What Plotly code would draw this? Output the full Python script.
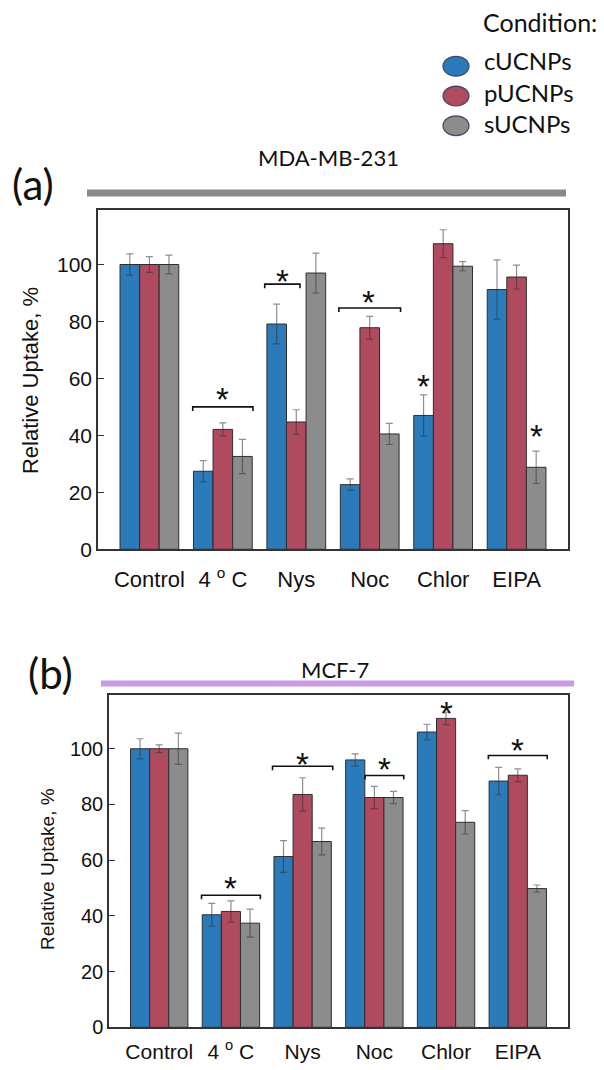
import plotly.graph_objects as go

W, H = 604, 1070

categories = ["Control", "4 <sup>o</sup> C", "Nys", "Noc", "Chlor", "EIPA"]
series_names = ["cUCNPs", "pUCNPs", "sUCNPs"]
colors = ["#2b7bba", "#b04a5f", "#8c8c8c"]

# Panel (a) MDA-MB-231
a_c = [100, 27.4, 79.1, 22.7, 47.0, 91.2]
a_c_err = [3.7, 3.7, 7.0, 2.0, 7.2, 10.4]
a_p = [100, 42.1, 44.7, 77.8, 107.3, 95.6]
a_p_err = [2.8, 2.3, 4.3, 4.0, 4.9, 4.2]
a_s = [100, 32.6, 97.0, 40.5, 99.4, 28.8]
a_s_err = [3.3, 6.0, 7.0, 3.7, 1.6, 5.7]

# Panel (b) MCF-7
b_c = [100, 40.4, 61.3, 96.0, 106.0, 88.4]
b_c_err = [3.6, 4.1, 5.7, 2.2, 2.8, 4.9]
b_p = [100, 41.6, 83.6, 82.5, 110.9, 90.5]
b_p_err = [1.4, 3.8, 6.0, 4.0, 2.2, 2.3]
b_s = [100, 37.4, 66.7, 82.5, 73.6, 49.8]
b_s_err = [5.6, 5.0, 4.8, 2.2, 4.2, 1.3]

# significance brackets: (category index, start offset, end offset, y)
a_brackets = [(1, -0.41, 0.41, 50.0), (2, -0.43, 0.05, 93.1), (3, -0.42, 0.42, 84.7)]
b_brackets = [(1, -0.41, 0.41, 47.4), (2, -0.42, 0.42, 93.7), (3, -0.13, 0.41, 90.4), (5, -0.41, 0.41, 97.6)]
# stars: (category index, offset, y)
a_stars = [(1, 0.0, 55.5), (2, -0.19, 96.8), (3, -0.01, 89.4), (4, -0.267, 59.9), (5, 0.267, 42.5)]
b_stars = [(1, 0.0, 52.6), (2, 0.0, 97.3), (3, 0.14, 95.3), (4, 0.0, 115.4), (5, 0.0, 102.3)]

xidx = list(range(len(categories)))

fig = go.Figure()

panels = [
    ("x", "y", [(a_c, a_c_err), (a_p, a_p_err), (a_s, a_s_err)], a_brackets, a_stars),
    ("x2", "y2", [(b_c, b_c_err), (b_p, b_p_err), (b_s, b_s_err)], b_brackets, b_stars),
]

for xa, ya, data, brackets, stars in panels:
    for (vals, errs), name, col in zip(data, series_names, colors):
        fig.add_trace(go.Bar(
            x=xidx, y=vals, name=name, xaxis=xa, yaxis=ya,
            marker=dict(color=col, line=dict(color="#2e2e2e", width=1)),
            error_y=dict(type="data", array=errs, visible=True,
                         color="rgba(50,50,50,0.55)", thickness=1.2, width=3.5),
            showlegend=False,
        ))
    for ci, o0, o1, yv in brackets:
        fig.add_trace(go.Scatter(
            x=[ci + o0, ci + o0, ci + o1, ci + o1],
            y=[yv - 1.4, yv, yv, yv - 1.4],
            mode="lines", line=dict(color="#111111", width=1.6),
            xaxis=xa, yaxis=ya, showlegend=False, hoverinfo="skip",
        ))
    for ci, off, yv in stars:
        fig.add_annotation(x=ci + off, y=yv, xref=xa, yref=ya, text="*",
                           showarrow=False, yshift=-8,
                           font=dict(family="Liberation Sans", size=33, color="#111111"))

axis_common_y = dict(range=[0, 119.2], tickvals=[0, 20, 40, 60, 80, 100],
                     ticks="inside", ticklen=6, tickcolor="#333333",
                     showline=True, mirror=True, linecolor="#333333", linewidth=1.5,
                     showgrid=False, zeroline=False)
axis_common_x = dict(range=[-0.7, 5.7], tickvals=xidx, ticktext=categories,
                     ticks="", showline=True, mirror=True, linecolor="#333333",
                     linewidth=1.5, showgrid=False, zeroline=False)

def px(v):
    return v / W

def py(v):
    return 1 - v / H

fig.update_layout(
    width=W, height=H, margin=dict(l=0, r=0, t=0, b=0),
    paper_bgcolor="white", plot_bgcolor="white",
    barmode="group", bargap=0.2, bargroupgap=0,
    xaxis=dict(domain=[px(98), px(568)], anchor="y",
               tickfont=dict(family="Liberation Sans", size=22, color="#111111"),
               ticklabelstandoff=10, **axis_common_x),
    yaxis=dict(domain=[py(555), py(212)], anchor="x",
               tickfont=dict(family="Liberation Sans", size=21, color="#111111"),
               **axis_common_y),
    xaxis2=dict(domain=[px(109), px(568)], anchor="y2",
                tickfont=dict(family="Liberation Sans", size=21, color="#111111"),
                ticklabelstandoff=5, **axis_common_x),
    yaxis2=dict(domain=[py(1038), py(702.5)], anchor="x2",
                tickfont=dict(family="Liberation Sans", size=20, color="#111111"),
                **axis_common_y),
    showlegend=False,
)

shapes = [
    dict(type="line", xref="paper", yref="paper", x0=px(87), x1=px(566), y0=py(195), y1=py(195),
         line=dict(color="#8a8a8a", width=7)),
    dict(type="line", xref="paper", yref="paper", x0=px(101), x1=px(574), y0=py(690.5), y1=py(690.5),
         line=dict(color="#c99be6", width=6)),
]
legend_y_text = [61, 93, 125]
legend_y_circ = [67, 97, 127]
for yc, col in zip(legend_y_circ, colors):
    shapes.append(dict(type="circle", xref="paper", yref="paper",
                       x0=px(443), x1=px(469), y0=py(yc + 10), y1=py(yc - 10),
                       fillcolor=col, line=dict(color="#3d4a66", width=1.2)))
fig.update_layout(shapes=shapes)

txt = [
    dict(text="Condition:", x=481, y=22, size=25, anchor="left"),
    dict(text="MDA-MB-231", x=329, y=159, size=22, anchor="center"),
    dict(text="MCF-7", x=335, y=676, size=22, anchor="center"),
    dict(text="(a)", x=33, y=186, size=42, anchor="center"),
    dict(text="(b)", x=50, y=680, size=42, anchor="center"),
]
for name, yt in zip(series_names, legend_y_text):
    txt.append(dict(text=name, x=482, y=yt, size=24, anchor="left"))
for t in txt:
    fig.add_annotation(text=t["text"], x=px(t["x"]), y=py(t["y"]), xref="paper", yref="paper",
                       xanchor=t["anchor"], yanchor="middle", showarrow=False,
                       font=dict(family="Lato", size=t["size"], color="#111111"))

fig.add_annotation(text="Relative Uptake, %", x=px(30), y=py(385), xref="paper", yref="paper",
                   textangle=-90, showarrow=False, xanchor="center", yanchor="middle",
                   font=dict(family="Liberation Sans", size=22, color="#111111"))
fig.add_annotation(text="Relative Uptake, %", x=px(48), y=py(878), xref="paper", yref="paper",
                   textangle=-90, showarrow=False, xanchor="center", yanchor="middle",
                   font=dict(family="Liberation Sans", size=19, color="#111111"))

fig.write_html("out.html")
